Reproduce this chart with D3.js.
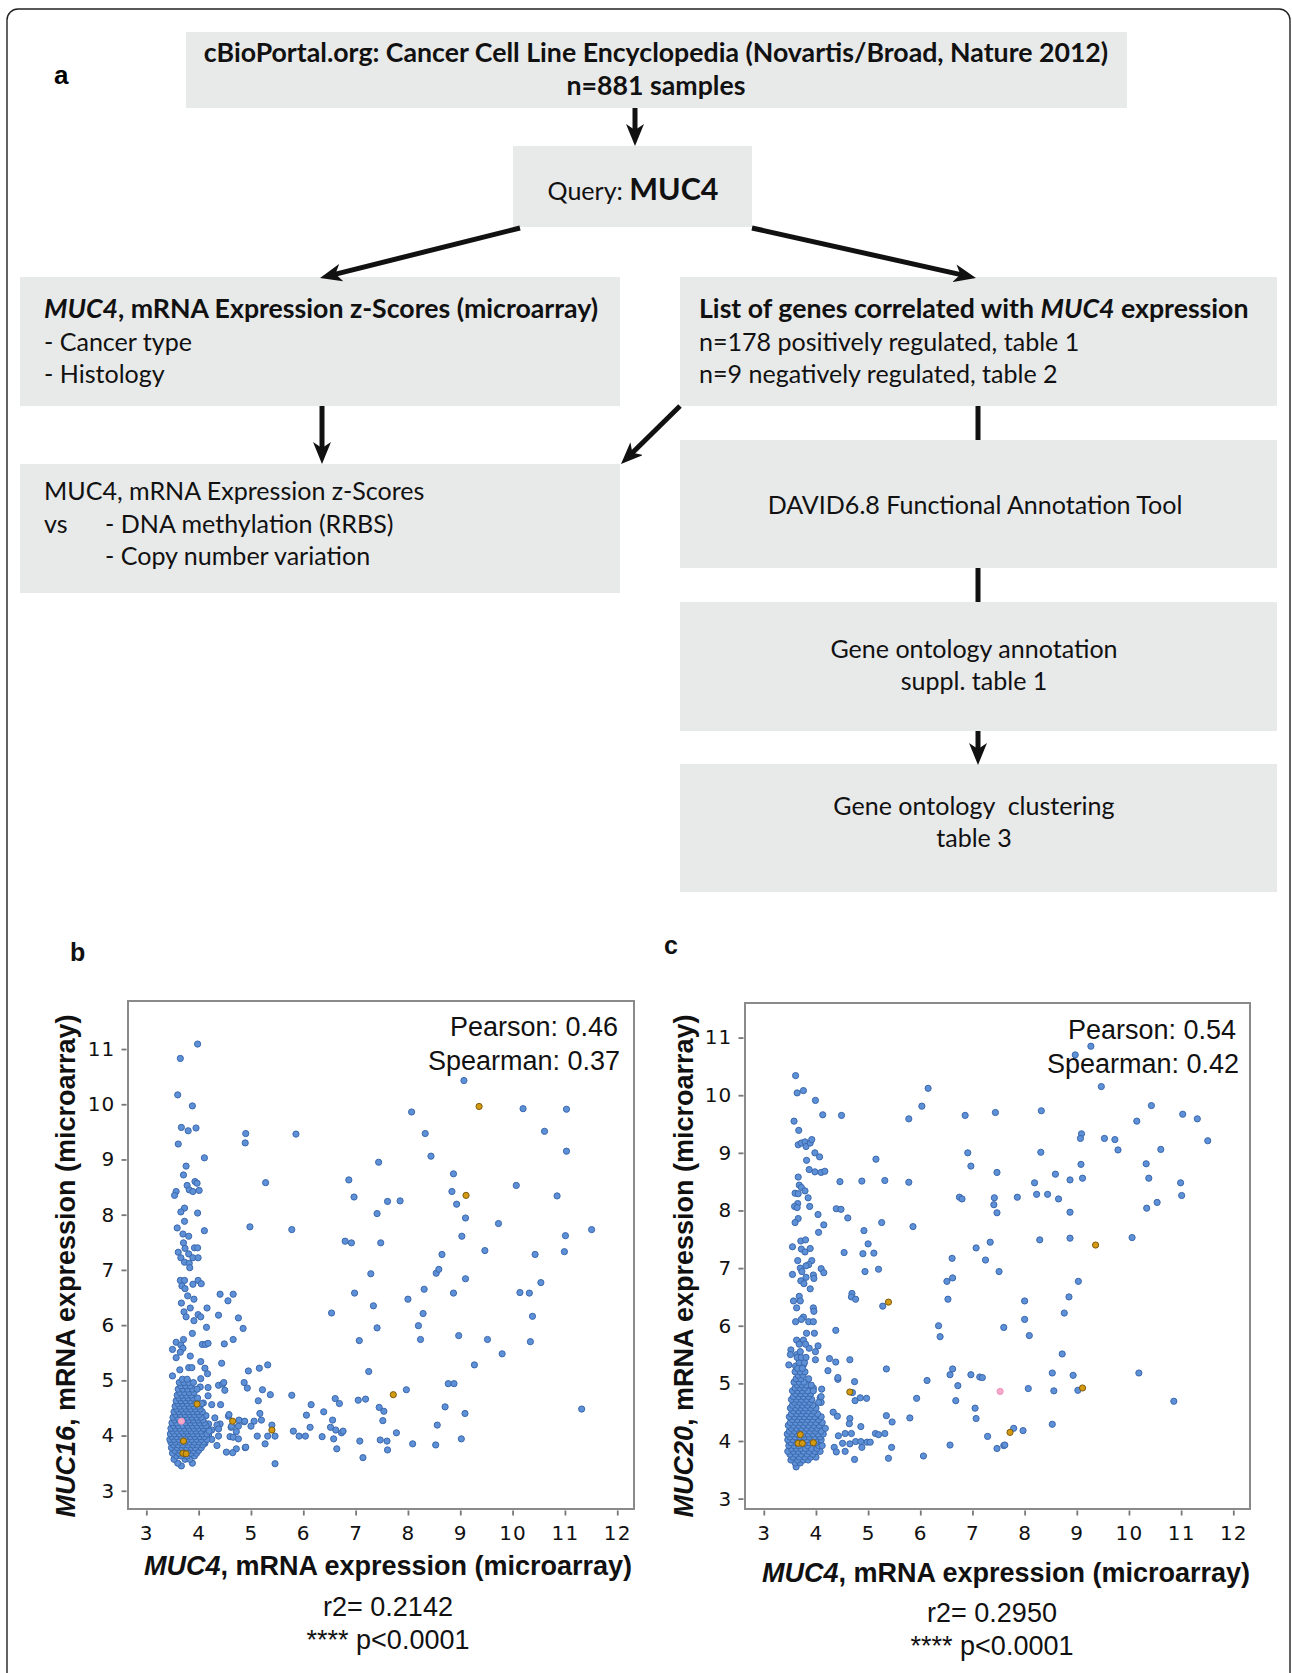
<!DOCTYPE html>
<html>
<head>
<meta charset="utf-8">
<script src="https://cdn.jsdelivr.net/npm/d3@7"></script>
<style>
  body { margin: 0; background: #fff; }
  svg { display: block; }
  .flow text { font-family: Lato, "Open Sans", sans-serif; fill: #111; }
  .plot text { font-family: "Liberation Sans", Arial, sans-serif; fill: #111; }
  .plot .tick text { font-family: "DejaVu Sans", Verdana, sans-serif; }
</style>
</head>
<body>
<div id="fig"></div>
<script>
// ---- flowchart texts ----
const topLines = ["cBioPortal.org: Cancer Cell Line Encyclopedia (Novartis/Broad, Nature 2012)", "n=881 samples"];
const leftLines = ["- Cancer type", "- Histology"];
const rightLines = ["n=178 positively regulated, table 1", "n=9 negatively regulated, table 2"];
const methLines = ["- DNA methylation (RRBS)", "- Copy number variation"];
const goLines = ["Gene ontology annotation", "suppl. table 1"];
const clusLines = ["Gene ontology  clustering", "table 3"];

// ---- scatter axes ----
const xTicks = [3, 4, 5, 6, 7, 8, 9, 10, 11, 12];
const yTicks = [3, 4, 5, 6, 7, 8, 9, 10, 11];

// ---- panel b: MUC4 vs MUC16 ----
const bBlue = [
  [3.98,11.09],[3.65,10.83],[3.60,10.17],[3.88,9.97],[3.67,9.58],[3.80,9.52],[3.95,9.57],[3.61,9.28],
  [4.11,9.03],[3.76,8.88],[3.71,8.72],[3.93,8.60],[3.97,8.57],[3.78,8.53],[3.82,8.45],[3.89,8.42],
  [4.01,8.44],[3.57,8.42],[3.54,8.35],[3.73,8.12],[3.66,8.05],[3.98,8.03],[3.73,7.88],[3.59,7.76],
  [4.11,7.71],[3.70,7.65],[3.81,7.61],[3.71,7.49],[3.74,7.39],[3.61,7.32],[3.92,7.40],[3.98,7.40],
  [3.81,7.29],[3.66,7.22],[3.89,7.22],[3.99,7.22],[3.73,7.14],[3.82,7.12],[3.83,7.04],[3.65,6.81],
  [3.73,6.81],[3.99,6.81],[4.05,6.75],[3.89,6.74],[3.68,6.71],[3.74,6.66],[3.79,6.53],[3.91,6.47],
  [3.67,6.40],[3.84,6.31],[3.72,6.24],[3.76,6.15],[3.99,6.19],[4.04,6.15],[3.91,6.08],[4.16,6.31],
  [3.88,5.85],[4.15,5.96],[4.07,5.65],[4.13,5.65],[4.18,5.67],[3.57,5.69],[3.50,5.56],[3.66,5.64],
  [3.71,5.74],[3.70,5.58],[3.57,5.41],[3.65,5.51],[3.84,5.44],[4.04,5.34],[3.64,5.19],[3.81,5.23],
  [3.87,5.23],[4.12,5.22],[4.17,5.12],[3.50,5.08],[4.04,5.03],
  [4.41,6.56],[4.66,6.56],[4.56,6.44],[4.38,6.18],[4.76,6.13],[4.85,5.94],[4.49,5.66],[4.66,5.74],
  [4.44,5.31],[5.28,8.58],[4.90,9.47],[4.89,9.30],[4.98,7.78],[5.86,9.46],[5.78,7.73],[4.95,5.17],
  [5.16,5.22],[5.32,5.28],[4.87,4.96],[4.93,4.86],[5.22,4.83],[5.37,4.74],[5.14,4.63],[4.38,4.91],
  [4.46,4.93],[4.50,4.82],[4.42,4.56],[4.25,4.56],[4.31,4.32],[4.57,4.35],[4.87,4.25],[5.06,4.26],
  [5.20,4.28],[5.17,4.40],[5.40,4.19],[5.00,4.17],[4.76,4.17],[4.62,4.15],[4.72,4.07],[4.60,3.98],
  [4.66,3.97],[4.76,3.94],[5.12,3.99],[5.32,3.99],[5.46,3.99],[5.27,3.85],[4.89,3.78],[4.72,3.76],
  [4.53,3.70],[4.65,3.69],[4.35,3.82],[4.38,3.99],[5.46,3.49],[5.78,4.73],[5.81,4.08],[5.92,3.99],
  [6.04,3.99],[6.06,4.37],[6.13,4.15],[6.15,4.56],[6.36,3.98],[6.39,4.43],[6.52,4.15],[6.56,4.28],
  [6.58,3.94],[6.62,4.10],[6.61,4.67],[6.69,4.58],[6.73,4.05],[6.76,4.08],[6.64,3.76],[6.54,6.22],
  [6.87,8.63],[6.97,8.32],[6.80,7.52],[6.92,7.49],[6.98,6.58],[7.07,5.72],[7.05,4.64],[7.19,4.66],
  [7.25,5.16],[7.08,3.90],[7.14,3.60],[7.29,6.93],[7.34,6.35],[7.41,8.02],[7.44,8.95],[7.48,7.49],
  [7.41,5.95],[7.45,4.51],[7.54,4.44],[7.52,4.27],[7.47,3.92],[7.60,3.90],[7.61,3.74],[7.61,8.24],
  [7.85,8.25],[7.78,4.05],[7.97,4.83],[8.00,6.47],[8.09,3.85],[8.07,9.86],[8.33,9.47],[8.44,9.06],
  [8.31,6.65],[8.29,6.21],[8.20,5.99],[8.24,5.74],[8.54,6.94],[8.59,7.01],[8.65,7.28],[8.71,4.52],
  [8.56,4.19],[8.53,3.83],[8.87,8.74],[8.84,8.42],[8.93,8.19],[8.87,6.58],[8.77,4.94],[8.88,4.94],
  [8.97,5.81],[9.07,10.43],[9.10,7.94],[9.03,7.61],[9.10,6.84],[9.09,4.40],[9.02,3.94],[9.47,7.35],
  [9.52,5.74],[9.27,5.28],[9.73,7.84],[9.80,5.48],[10.20,9.92],[10.07,8.53],[10.14,6.59],[10.32,6.58],
  [10.38,6.16],[10.34,5.70],[10.43,7.28],[10.54,6.77],[10.61,9.51],[10.85,8.34],[11.03,9.91],[11.03,9.15],
  [11.01,7.62],[10.99,7.33],[11.51,7.73],[11.32,4.48],
  [4.03,4.88],[4.18,4.87],[4.18,4.72],[4.09,4.59],[4.14,4.36],[4.19,4.21],[4.41,4.21],[4.35,4.19],
  [4.38,4.12],[4.25,4.10],[4.19,4.01],[4.25,3.93],[4.13,3.93],[4.12,3.86],[4.48,4.96],[4.58,4.38],
  [4.63,4.17],[4.77,4.28],[4.88,4.26],[4.90,3.79]
];
// dense cluster of panel b, one row per MUC16 level: [y, [x, ...]]
const bCluster = [
  [3.45,[3.67]],
  [3.50,[3.60,3.88]],
  [3.57,[3.53,3.74,3.83]],
  [3.63,[3.58,3.66,3.78,3.92]],
  [3.68,[3.50,3.62,3.85,3.96]],
  [3.73,[3.55,3.64,3.72,3.81,3.90,4.00]],
  [3.78,[3.48,3.59,3.68,3.77,3.86,3.94,4.05]],
  [3.83,[3.52,3.61,3.70,3.80,3.89,3.98,4.08]],
  [3.88,[3.47,3.56,3.65,3.74,3.83,3.92,4.01,4.10]],
  [3.93,[3.45,3.53,3.62,3.70,3.79,3.87,3.96,4.05,4.16]],
  [3.98,[3.49,3.58,3.67,3.76,3.84,3.93,4.02,4.11]],
  [4.03,[3.46,3.54,3.63,3.72,3.80,3.89,3.98,4.07,4.16]],
  [4.08,[3.50,3.59,3.68,3.77,3.86,3.95,4.04,4.20]],
  [4.13,[3.47,3.56,3.64,3.73,3.82,3.91,4.00,4.09]],
  [4.18,[3.52,3.61,3.70,3.79,3.88,3.97,4.06,4.14]],
  [4.23,[3.49,3.58,3.75,3.84,3.93,4.02,4.11]],
  [4.28,[3.54,3.63,3.72,3.81,3.90,3.99,4.08]],
  [4.33,[3.51,3.60,3.69,3.78,3.87,3.96,4.05]],
  [4.38,[3.56,3.65,3.74,3.83,3.92,4.01]],
  [4.43,[3.53,3.62,3.71,3.80,3.89,3.98,4.07]],
  [4.48,[3.58,3.67,3.76,3.85,3.94,4.03]],
  [4.53,[3.55,3.64,3.73,3.82,3.91,4.00]],
  [4.58,[3.60,3.69,3.78,3.87,4.06]],
  [4.63,[3.57,3.66,3.75,3.84,3.93]],
  [4.68,[3.62,3.71,3.80,3.89,3.98]],
  [4.73,[3.59,3.68,3.77,3.86]],
  [4.78,[3.64,3.73,3.82,3.91]],
  [4.84,[3.61,3.70,3.79,3.88,3.97]],
  [4.90,[3.66,3.75,3.84]],
  [4.96,[3.63,3.72,3.81,3.90]],
  [5.02,[3.69,3.78]]
];
const bOrange = [[9.36,9.96],[9.11,8.35],[7.72,4.74],[5.40,4.10],[4.65,4.26],[3.97,4.57],[3.71,3.90],[3.70,3.68],[3.76,3.67]];
const bPink = [[3.67,4.26]];

// ---- panel c: MUC4 vs MUC20 ----
const cBlue = [
  [3.61,10.34],[3.64,10.04],[3.76,10.08],[3.99,9.91],[4.13,9.66],[4.49,9.65],[3.58,9.55],[3.67,9.39],
  [3.66,9.14],[3.72,9.17],[3.79,9.19],[3.81,9.11],[3.89,9.17],[3.92,9.23],[3.98,9.00],[4.07,8.93],
  [3.82,8.87],[3.87,8.71],[3.98,8.67],[4.10,8.66],[4.17,8.68],[3.66,8.58],[3.68,8.44],[3.72,8.40],
  [3.79,8.34],[3.60,8.30],[3.66,8.29],[3.85,8.22],[3.65,8.12],[3.59,8.07],[3.64,8.05],[3.88,8.07],
  [3.66,7.86],[3.60,7.79],[4.04,7.93],[4.15,7.75],[4.05,7.62],[3.71,7.47],[3.80,7.49],[3.55,7.37],
  [3.72,7.33],[3.89,7.34],[3.79,7.28],[3.65,7.13],[3.92,7.13],[3.86,7.06],[3.81,7.04],[3.70,7.00],
  [4.10,6.99],[4.15,6.92],[3.55,6.89],[3.73,6.94],[3.95,6.88],[3.96,6.82],[3.81,6.84],[3.71,6.78],
  [3.77,6.73],[3.89,6.64],[3.68,6.51],[3.70,6.43],[3.57,6.43],[3.95,6.31],[3.96,6.25],[3.63,6.31],
  [3.76,6.15],[3.72,6.11],[3.61,6.07],[3.86,6.07],[3.95,6.07],[3.82,5.87],[3.97,5.87],[4.38,5.92],
  [3.63,5.75],[3.76,5.75],[4.04,5.65],[3.87,5.61],[3.52,5.58],[3.99,5.55],[3.51,5.50],[3.63,5.50],
  [4.26,5.43],[4.38,5.37],[4.65,5.41],[3.99,5.41],[3.48,5.32],[3.61,5.30],[3.76,5.32],[4.23,5.22],
  [4.42,5.07],[4.74,5.03],[5.35,5.25],[4.42,5.10],[4.70,4.84],[4.75,4.70],[4.85,4.75],[4.97,4.74],
  [3.95,4.92],[4.11,4.90],[4.08,4.75],[4.10,4.67],[4.33,4.50],[4.41,4.43],[4.65,4.39],[4.64,4.30],
  [4.86,4.25],[5.35,4.44],[5.46,4.33],[5.14,4.13],[5.20,4.11],[5.32,4.13],[4.43,4.09],[4.56,4.13],
  [4.68,4.13],[4.35,3.89],[4.39,3.81],[4.51,3.96],[4.56,3.82],[4.65,3.95],[4.76,3.99],[4.74,3.68],
  [4.86,3.99],[4.88,3.89],[4.98,3.98],[5.04,3.98],[5.45,3.89],[5.39,3.70],
  [5.15,8.89],[4.88,8.51],[4.46,8.50],[5.32,8.52],[4.39,8.03],[4.48,8.02],[4.61,7.87],[4.92,7.65],
  [5.00,7.42],[5.26,7.79],[4.90,7.25],[5.11,7.26],[4.54,7.27],[5.20,6.98],[4.94,6.94],[4.69,6.56],
  [4.68,6.50],[4.76,6.46],[5.28,6.34],[5.78,9.59],[6.03,9.81],[6.15,10.12],[5.78,8.49],[5.86,7.72],
  [5.93,4.74],[5.80,4.40],[6.13,5.05],[6.06,3.74],[6.35,6.00],[6.38,5.81],[6.57,3.93],[6.51,6.77],
  [6.53,6.46],[6.62,6.83],[6.61,7.17],[6.62,5.25],[6.57,5.15],[6.72,4.96],[6.68,4.70],[6.86,9.65],
  [6.91,9.00],[6.97,8.77],[6.75,8.23],[6.80,8.20],[7.07,7.35],[6.97,5.15],[7.05,4.57],[7.07,4.39],
  [7.14,5.11],[7.19,5.10],[7.25,7.14],[7.34,7.45],[7.29,4.08],[7.44,9.70],[7.47,8.66],[7.42,8.22],
  [7.41,8.10],[7.47,7.96],[7.51,6.94],[7.60,5.97],[7.47,3.87],[7.60,3.92],[7.62,3.93],[7.79,4.22],
  [7.86,8.23],[7.97,4.18],[8.00,6.43],[8.00,6.11],[8.09,5.83],[8.07,4.91],[8.19,8.48],[8.23,8.28],
  [8.32,9.73],[8.31,9.01],[8.29,7.49],[8.44,8.28],[8.59,8.63],[8.65,8.20],[8.53,5.18],[8.56,4.87],
  [8.53,4.29],[8.72,5.51],[8.76,6.22],[8.85,6.50],[8.87,8.53],[8.87,7.97],[8.87,7.52],[8.93,5.14],
  [8.97,10.70],[9.02,4.88],[9.03,6.77],[9.08,8.80],[9.11,8.56],[9.09,9.33],[9.07,9.25],[9.27,10.85],
  [9.47,10.15],[9.53,9.25],[9.73,9.23],[9.79,9.05],[10.06,7.53],[10.15,9.55],[10.19,5.18],[10.33,8.81],
  [10.38,8.56],[10.34,8.04],[10.43,9.82],[10.54,8.14],[10.61,9.06],[10.86,4.69],[10.99,8.48],[11.01,8.26],
  [11.03,9.67],[11.31,9.59],[11.51,9.21]
];
const cCluster = [
  [3.55,[3.62]],
  [3.62,[3.60,3.70]],
  [3.67,[3.52,3.65,3.76,3.85]],
  [3.72,[3.56,3.68,3.79,3.90,4.00]],
  [3.77,[3.50,3.61,3.72,3.83,3.94]],
  [3.82,[3.46,3.57,3.66,3.76,3.87,3.98,4.08]],
  [3.87,[3.53,3.62,3.71,3.80,3.91,4.02]],
  [3.92,[3.48,3.58,3.67,3.84,4.05,4.12]],
  [3.97,[3.52,3.62,3.80,3.88,4.00]],
  [4.02,[3.46,3.56,3.65,3.74,3.83,3.93,4.03,4.10]],
  [4.07,[3.50,3.60,3.69,3.78,3.87,3.97,4.08]],
  [4.12,[3.45,3.55,3.64,3.76,3.85,3.94,4.04,4.14]],
  [4.17,[3.49,3.59,3.68,3.78,3.88,3.99,4.10]],
  [4.22,[3.53,3.63,3.72,3.82,3.92,4.02,4.18]],
  [4.27,[3.47,3.57,3.67,3.76,3.86,3.96,4.06]],
  [4.32,[3.51,3.61,3.70,3.80,3.90,4.00,4.12]],
  [4.37,[3.55,3.65,3.74,3.84,3.94,4.05]],
  [4.42,[3.49,3.59,3.69,3.78,3.88,3.98,4.10]],
  [4.47,[3.53,3.63,3.72,3.82,3.92,4.03]],
  [4.52,[3.57,3.67,3.76,3.86,3.96]],
  [4.57,[3.51,3.61,3.71,3.80,3.90,4.00]],
  [4.62,[3.55,3.65,3.74,3.84,3.94]],
  [4.67,[3.59,3.69,3.78,3.88,4.05]],
  [4.72,[3.53,3.63,3.72,3.82,3.92]],
  [4.77,[3.57,3.67,3.76,3.86,4.10]],
  [4.82,[3.61,3.71,3.80,3.90]],
  [4.87,[3.55,3.65,3.74,3.84,3.95]],
  [4.92,[3.60,3.69,3.78]],
  [4.97,[3.64,3.73,3.82,3.91]],
  [5.02,[3.58,3.68,3.77]],
  [5.08,[3.62,3.71,3.86]],
  [5.14,[3.66,3.75]],
  [5.20,[3.60,3.70,3.79]],
  [5.26,[3.65,3.74]],
  [5.36,[3.68,3.78]],
  [5.45,[3.64,3.72,3.81]],
  [5.55,[3.70]],
  [5.68,[3.68,3.80]]
];
const cOrange = [[9.36,7.40],[9.11,4.92],[7.72,4.15],[5.39,6.41],[4.65,4.85],[3.70,4.11],[3.66,3.96],[3.74,3.96],[3.95,3.97]];
const cPink = [[7.53,4.86]];

const statsB = ["Pearson: 0.46", "Spearman: 0.37"];
const statsC = ["Pearson: 0.54", "Spearman: 0.42"];
const fitB = ["r2= 0.2142", "**** p<0.0001"];
const fitC = ["r2= 0.2950", "**** p<0.0001"];

// ---------------------------------------------------------------
const width = 1292, height = 1673;
const svg = d3.select("#fig").append("svg")
  .attr("width", width).attr("height", height)
  .attr("viewBox", [0, 0, width, height]);

// outer panel border (bottom edge runs off the page)
svg.append("rect")
  .attr("x", 7).attr("y", 9).attr("width", 1283).attr("height", 1720)
  .attr("rx", 11)
  .attr("fill", "none").attr("stroke", "#222").attr("stroke-width", 1.4);

// ---------------- flowchart (panel a) ----------------
const flow = svg.append("g").attr("class", "flow");
const boxFill = "#e8e9e9";

const boxes = {
  top:   [186, 32, 1127, 108],
  query: [513, 146, 752, 227],
  left:  [20, 277, 620, 406],
  right: [680, 277, 1277, 406],
  meth:  [20, 464, 620, 593],
  david: [680, 440, 1277, 568],
  go:    [680, 602, 1277, 731],
  clus:  [680, 764, 1277, 892]
};

flow.selectAll("rect.box")
  .data(Object.values(boxes))
  .join("rect")
    .attr("class", "box")
    .attr("x", d => d[0]).attr("y", d => d[1])
    .attr("width", d => d[2] - d[0]).attr("height", d => d[3] - d[1])
    .attr("fill", boxFill);

// measure helper: font size that gives a line the wanted width
function fitSize(str, weight, target) {
  const t = flow.append("text").attr("font-size", 100).attr("font-weight", weight).text(str);
  const w = t.node().getComputedTextLength();
  t.remove();
  return 100 * target / w;
}
const boldSize = fitSize(topLines[0], 700, 905);
const regSize = fitSize("DAVID6.8 Functional Annotation Tool", 400, 415);

// arrowhead
const defs = svg.append("defs");
defs.append("marker")
  .attr("id", "head")
  .attr("viewBox", "0 0 22 18")
  .attr("markerUnits", "userSpaceOnUse")
  .attr("markerWidth", 22).attr("markerHeight", 18)
  .attr("refX", 11).attr("refY", 9)
  .attr("orient", "auto")
  .append("path")
    .attr("d", "M0,0 L22,9 L0,18 L6,9 Z")
    .attr("fill", "#111");

const arrows = [
  {from: [635, 108], to: [635, 146], head: true},
  {from: [520, 228], to: [320, 278], head: true},
  {from: [752, 228], to: [976, 278], head: true},
  {from: [322, 406], to: [322, 464], head: true},
  {from: [680, 406], to: [621, 464], head: true},
  {from: [978, 406], to: [978, 440], head: false},
  {from: [978, 568], to: [978, 602], head: false},
  {from: [978, 731], to: [978, 765], head: true}
];
arrows.forEach(a => {
  let [x1, y1] = a.from, [x2, y2] = a.to;
  if (a.head) {
    const len = Math.hypot(x2 - x1, y2 - y1);
    x2 -= (x2 - x1) / len * 11;
    y2 -= (y2 - y1) / len * 11;
  }
  flow.append("line")
    .attr("x1", x1).attr("y1", y1).attr("x2", x2).attr("y2", y2)
    .attr("stroke", "#111").attr("stroke-width", 5)
    .attr("marker-end", a.head ? "url(#head)" : null);
});

// panel letter a
svg.append("text").attr("x", 54).attr("y", 84)
  .attr("font-family", "'Liberation Sans', Arial, sans-serif")
  .attr("font-weight", 700).attr("font-size", 26).text("a");

// top box
flow.selectAll("text.top")
  .data(topLines)
  .join("text")
    .attr("class", "top")
    .attr("x", 656).attr("y", (d, i) => 62 + i * 33)
    .attr("text-anchor", "middle")
    .attr("font-weight", 700).attr("font-size", boldSize)
    .text(d => d);

// query box
const q = flow.append("text").attr("x", 633).attr("y", 200).attr("text-anchor", "middle");
q.append("tspan").attr("font-size", regSize).text("Query: ");
q.append("tspan").attr("font-size", boldSize * 1.14).attr("font-weight", 700).text("MUC4");

// left box
const l1 = flow.append("text").attr("x", 44).attr("y", 318)
  .attr("font-weight", 700).attr("font-size", boldSize);
l1.append("tspan").attr("font-style", "italic").text("MUC4");
l1.append("tspan").text(", mRNA Expression z-Scores (microarray)");
flow.selectAll("text.left")
  .data(leftLines)
  .join("text")
    .attr("class", "left")
    .attr("x", 44).attr("y", (d, i) => 351 + i * 32)
    .attr("font-size", regSize)
    .text(d => d);

// right box
const r1 = flow.append("text").attr("x", 699).attr("y", 318)
  .attr("font-weight", 700).attr("font-size", boldSize);
r1.append("tspan").text("List of genes correlated with ");
r1.append("tspan").attr("font-style", "italic").text("MUC4");
r1.append("tspan").text(" expression");
flow.selectAll("text.right")
  .data(rightLines)
  .join("text")
    .attr("class", "right")
    .attr("x", 699).attr("y", (d, i) => 351 + i * 32)
    .attr("font-size", regSize)
    .text(d => d);

// methylation / CNV box
flow.append("text").attr("x", 44).attr("y", 500).attr("font-size", regSize)
  .text("MUC4, mRNA Expression z-Scores");
flow.append("text").attr("x", 44).attr("y", 533).attr("font-size", regSize).text("vs");
flow.selectAll("text.meth")
  .data(methLines)
  .join("text")
    .attr("class", "meth")
    .attr("x", 105).attr("y", (d, i) => 533 + i * 32)
    .attr("font-size", regSize)
    .text(d => d);

// right column boxes
flow.append("text").attr("x", 975).attr("y", 514).attr("text-anchor", "middle")
  .attr("font-size", regSize).text("DAVID6.8 Functional Annotation Tool");
flow.selectAll("text.go")
  .data(goLines)
  .join("text")
    .attr("class", "go")
    .attr("x", 974).attr("y", (d, i) => 658 + i * 32)
    .attr("text-anchor", "middle").attr("font-size", regSize)
    .text(d => d);
flow.selectAll("text.clus")
  .data(clusLines)
  .join("text")
    .attr("class", "clus")
    .attr("x", 974).attr("y", (d, i) => 815 + i * 32)
    .attr("text-anchor", "middle").attr("font-size", regSize)
    .style("white-space", "pre")
    .text(d => d);

// ---------------- scatter panels ----------------
const expand = rows => rows.flatMap(([y, xs]) => xs.map(x => [x, y]));

function drawScatter(cfg) {
  const g = svg.append("g").attr("class", "plot");
  const [L, T, R, Bm] = cfg.frame;

  const x = d3.scaleLinear().domain(cfg.xDomain).range([L, R]);
  const y = d3.scaleLinear().domain(cfg.yDomain).range([Bm, T]);

  // panel letter
  g.append("text").attr("x", cfg.letterPos[0]).attr("y", cfg.letterPos[1])
    .attr("font-weight", 700).attr("font-size", 25).text(cfg.letter);

  // frame
  g.append("rect").attr("x", L).attr("y", T).attr("width", R - L).attr("height", Bm - T)
    .attr("fill", "none").attr("stroke", "#8a8a8a").attr("stroke-width", 2);

  // axes (short ticks that stand off the frame a little)
  const xAxis = g.append("g")
    .attr("transform", `translate(0,${Bm + 1.5})`)
    .call(d3.axisBottom(x).tickValues(xTicks).tickSize(5).tickPadding(10).tickFormat(d3.format("d")))
    .call(s => s.select(".domain").remove());
  xAxis.selectAll("line").attr("stroke", "#777").attr("stroke-width", 1.8);
  xAxis.selectAll("text")
    .attr("font-size", 20).attr("letter-spacing", 1.2).attr("fill", "#111");

  const yAxis = g.append("g")
    .attr("transform", `translate(${L - 1.5},0)`)
    .call(d3.axisLeft(y).tickValues(yTicks).tickSize(5).tickPadding(6).tickFormat(d3.format("d")))
    .call(s => s.select(".domain").remove());
  yAxis.selectAll("line").attr("stroke", "#777").attr("stroke-width", 1.8);
  yAxis.selectAll("text")
    .attr("font-size", 20).attr("letter-spacing", 1.2).attr("fill", "#111");

  // points
  const dots = (data, fill, stroke) => g.append("g")
    .selectAll("circle")
    .data(data)
    .join("circle")
      .attr("cx", d => x(d[0]))
      .attr("cy", d => y(d[1]))
      .attr("r", 3.1)
      .attr("fill", fill)
      .attr("stroke", stroke)
      .attr("stroke-width", 1);
  dots(cfg.blue, "#5d90d6", "#3b68ad");
  dots(cfg.orange, "#d39a12", "#7d5c0c");
  dots(cfg.pink, "#f6a9cb", "#ee93bd");

  // correlation text
  g.selectAll("text.stat")
    .data(cfg.stats)
    .join("text")
      .attr("class", "stat")
      .attr("x", (d, i) => cfg.statX[i]).attr("y", (d, i) => cfg.statY + i * 34)
      .attr("text-anchor", "end").attr("font-size", 27)
      .text(d => d);

  // axis titles
  const xt = g.append("text").attr("x", cfg.xTitle[0]).attr("y", cfg.xTitle[1])
    .attr("text-anchor", "middle").attr("font-weight", 700).attr("font-size", 27);
  xt.append("tspan").attr("font-style", "italic").text("MUC4");
  xt.append("tspan").text(", mRNA expression (microarray)");

  const yt = g.append("text")
    .attr("transform", `translate(${cfg.yTitle[0]},${cfg.yTitle[1]}) rotate(-90)`)
    .attr("text-anchor", "middle").attr("font-weight", 700).attr("font-size", 27);
  yt.append("tspan").attr("font-style", "italic").text(cfg.gene);
  yt.append("tspan").text(", mRNA expression (microarray)");

  // regression note
  g.selectAll("text.fit")
    .data(cfg.fit)
    .join("text")
      .attr("class", "fit")
      .attr("x", cfg.fitPos[0]).attr("y", (d, i) => cfg.fitPos[1] + i * 33)
      .attr("text-anchor", "middle").attr("font-size", 27)
      .text(d => d);
}

drawScatter({
  letter: "b", letterPos: [70, 961],
  frame: [128, 1001, 634, 1509],
  xDomain: [2.65, 12.32], yDomain: [2.67, 11.87],
  blue: bBlue.concat(expand(bCluster)), orange: bOrange, pink: bPink,
  stats: statsB, statX: [618, 620], statY: 1036,
  xTitle: [388, 1575], yTitle: [75, 1266], gene: "MUC16",
  fit: fitB, fitPos: [388, 1616]
});

drawScatter({
  letter: "c", letterPos: [664, 954],
  frame: [745, 1003, 1250, 1509],
  xDomain: [2.64, 12.32], yDomain: [2.82, 11.6],
  blue: cBlue.concat(expand(cCluster)), orange: cOrange, pink: cPink,
  stats: statsC, statX: [1236, 1239], statY: 1039,
  xTitle: [1006, 1582], yTitle: [693, 1266], gene: "MUC20",
  fit: fitC, fitPos: [992, 1622]
});
</script>
</body>
</html>
